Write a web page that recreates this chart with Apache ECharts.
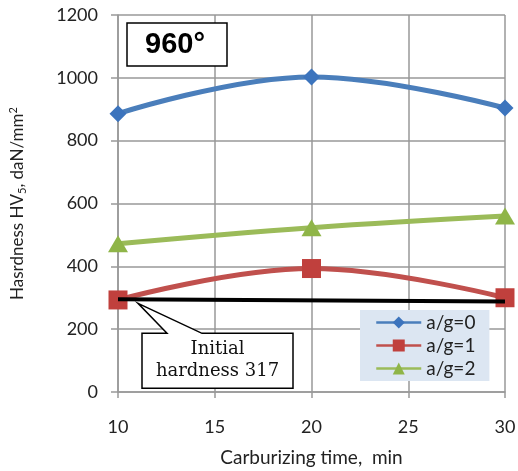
<!DOCTYPE html>
<html>
<head>
<meta charset="utf-8">
<script src="https://cdn.jsdelivr.net/npm/echarts@6/dist/echarts.min.js"></script>
<style>
  html, body { margin: 0; padding: 0; background: #fff; }
  #main { width: 518px; height: 471px; }
</style>
</head>
<body>
<div id="main"></div>
<script>
var times = [10, 20, 30];
var ag0 = [886, 1003, 904];
var ag1 = [293, 393, 300];
var ag2 = [472, 523, 560];
var initTimes = [10, 30];
var initHard = [295, 288];
var seriesNames = ['a/g=0', 'a/g=1', 'a/g=2'];

function pairs(xs, ys) {
  return xs.map(function (x, i) { return [x, ys[i]]; });
}

var chart = echarts.init(document.getElementById('main'));

var labelFont = { color: '#222', fontSize: 18, fontFamily: 'Lato' };
var plain = function (v) { return String(v); };

var option = {
  animation: false,
  grid: { left: 118, right: 13, top: 15, bottom: 79, outerBoundsMode: 'none', containLabel: false },
  legend: {
    orient: 'vertical',
    left: 360,
    top: 310,
    backgroundColor: '#dce6f2',
    padding: [3, 14, 3, 15],
    itemWidth: 45,
    itemHeight: 15,
    itemGap: 4,
    lineStyle: { width: 2.5 },
    textStyle: { color: '#222', fontSize: 19, fontFamily: 'Lato' },
    data: seriesNames
  },
  xAxis: {
    type: 'value',
    min: 10, max: 30, interval: 5,
    name: 'Carburizing time,  min',
    nameLocation: 'middle',
    nameGap: 56,
    nameTextStyle: { color: '#222', fontSize: 19, fontFamily: 'Lato' },
    axisLine: { show: true, lineStyle: { color: '#999', width: 1.5 } },
    axisTick: { show: true, length: 6, lineStyle: { color: '#999', width: 1.5 } },
    axisLabel: Object.assign({ margin: 26, formatter: plain }, labelFont),
    splitLine: { show: true, lineStyle: { color: '#999', width: 1.5 } }
  },
  yAxis: {
    type: 'value',
    min: 0, max: 1200, interval: 200,
    name: 'Hasrdness HV{sub|5}, daN/mm{sup|2}',
    nameLocation: 'middle',
    nameGap: 90,
    nameTextStyle: {
      color: '#222', fontSize: 17, fontFamily: 'Lato',
      rich: {
        sub: { fontSize: 11, fontFamily: 'Lato', color: '#222', verticalAlign: 'bottom', padding: [9, 0, 0, 0] },
        sup: { fontSize: 11, fontFamily: 'Lato', color: '#222', verticalAlign: 'top', padding: [0, 0, 9, 0] }
      }
    },
    axisLine: { show: true, lineStyle: { color: '#999', width: 1.5 } },
    axisTick: { show: true, length: 7, lineStyle: { color: '#999', width: 1.5 } },
    axisLabel: Object.assign({ margin: 20, formatter: plain }, labelFont),
    splitLine: { show: true, lineStyle: { color: '#999', width: 1.5 } }
  },
  series: [
    {
      name: seriesNames[0],
      type: 'line',
      smooth: 0.4,
      data: pairs(times, ag0),
      symbol: 'diamond',
      symbolSize: 17,
      lineStyle: { color: '#4a7ebb', width: 5 },
      itemStyle: { color: '#3c74bd' },
      z: 3
    },
    {
      name: seriesNames[1],
      type: 'line',
      smooth: 0.4,
      data: pairs(times, ag1),
      symbol: 'rect',
      symbolSize: 19,
      lineStyle: { color: '#c0504d', width: 5 },
      itemStyle: { color: '#c0403d' },
      z: 3
    },
    {
      name: seriesNames[2],
      type: 'line',
      smooth: 0.4,
      data: pairs(times, ag2),
      symbol: 'triangle',
      symbolSize: [20, 17],
      lineStyle: { color: '#9bbb59', width: 5 },
      itemStyle: { color: '#8fb548' },
      z: 3
    },
    {
      name: 'initial',
      type: 'line',
      data: pairs(initTimes, initHard),
      symbol: 'none',
      lineStyle: { color: '#000', width: 4 },
      z: 4
    }
  ]
};

chart.setOption(option);

// annotations anchored to the chart's coordinate system
var tip = chart.convertToPixel({ gridIndex: 0 }, [initTimes[0], initHard[0]]);
var tx = tip[0] + 20, ty = tip[1] + 4;
var bl = tip[0] + 24, br = tip[0] + 175, bt = tip[1] + 34, bb = tip[1] + 89;
var topLeft = chart.convertToPixel({ gridIndex: 0 }, [10, 1200]);

chart.setOption({
  graphic: [
    {
      type: 'polygon',
      shape: {
        points: [[bl, bt], [tip[0] + 49, bt], [tx, ty], [tip[0] + 84, bt], [br, bt], [br, bb], [bl, bb]]
      },
      style: { fill: '#fff', stroke: '#000', lineWidth: 1.5 },
      z: 10
    },
    {
      type: 'text',
      x: (bl + br) / 2, y: bt + 16,
      style: {
        text: 'Initial', fill: '#111', font: '18px "DejaVu Serif"',
        align: 'center', verticalAlign: 'middle'
      },
      z: 11
    },
    {
      type: 'text',
      x: (bl + br) / 2, y: bt + 38,
      style: {
        text: 'hardness 317', fill: '#111', font: '18px "DejaVu Serif"',
        align: 'center', verticalAlign: 'middle'
      },
      z: 11
    },
    {
      type: 'rect',
      shape: { x: topLeft[0] + 9, y: topLeft[1] + 8, width: 100, height: 43 },
      style: { fill: '#fff', stroke: '#000', lineWidth: 1.5 },
      z: 10
    },
    {
      type: 'text',
      x: topLeft[0] + 57, y: topLeft[1] + 30,
      style: {
        text: '960°', fill: '#000', font: 'bold 29px "Liberation Sans"',
        align: 'center', verticalAlign: 'middle'
      },
      z: 11
    }
  ]
});
</script>
</body>
</html>
